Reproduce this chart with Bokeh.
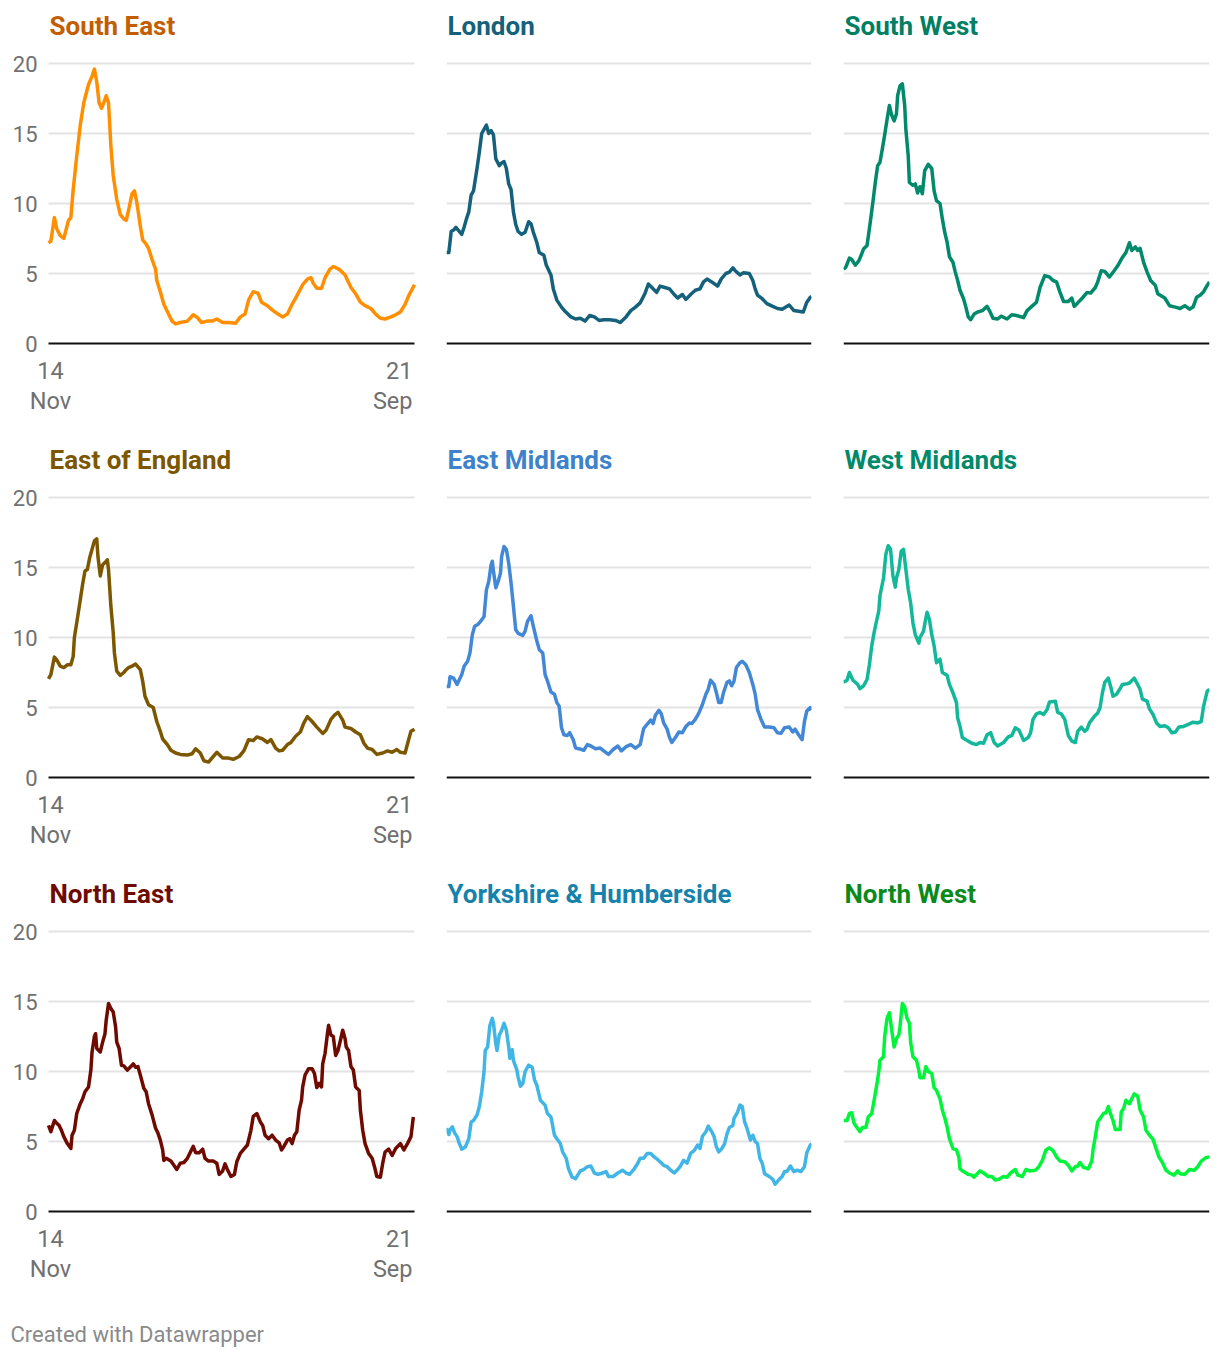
from bokeh.plotting import figure
from bokeh.layouts import column, row
from bokeh.models import Range1d, FixedTicker, Label
from bokeh.embed import file_html
from bokeh.resources import INLINE

# x = days since 14 Nov (0) .. 21 Sep (311)
X_START_LABEL = ["14", "Nov"]
X_END_LABEL = ["21", "Sep"]
X_MAX = 311
Y_MAX = 20
Y_TICKS = [0, 5, 10, 15, 20]
GRID_TICKS = [5, 10, 15, 20]

south_east = [(0,7.2),(2,7.3),(5,9.0),(7,8.2),(10,7.7),(13,7.5),(17,8.8),(19,9.0),(21,11.0),(24,13.4),(27,15.6),(30,17.2),(34,18.5),(37,19.1),(39,19.6),(41,18.7),(43,17.2),(45,16.8),(47,17.2),(49,17.7),(51,17.2),(53,14.1),(55,12.0),(58,10.3),(61,9.2),(64,8.9),(66,8.8),(68,9.5),(71,10.7),(73,10.9),(75,10.1),(78,8.4),(80,7.4),(83,7.1),(85,6.8),(88,6.0),(91,5.3),(92,4.5),(95,3.7),(98,2.8),(102,2.1),(105,1.6),(108,1.4),(112,1.5),(118,1.6),(123,2.05),(126,1.9),(130,1.5),(135,1.6),(139,1.6),(143,1.75),(148,1.5),(153,1.5),(159,1.45),(163,1.9),(167,2.1),(170,3.1),(174,3.7),(178,3.6),(181,2.95),(186,2.7),(190,2.4),(195,2.1),(199,1.9),(203,2.1),(207,2.8),(211,3.4),(216,4.2),(220,4.6),(223,4.7),(225,4.3),(228,3.95),(232,3.95),(235,4.7),(239,5.3),(242,5.5),(247,5.3),(252,4.9),(257,4.0),(261,3.55),(265,2.95),(269,2.7),(274,2.5),(278,2.1),(282,1.8),(286,1.75),(291,1.9),(295,2.05),(299,2.25),(303,2.8),(306,3.4),(311,4.2)]

london = [(0,6.5),(2,6.5),(4,8.0),(6,8.1),(8,8.3),(10,8.1),(13,7.8),(15,8.3),(17,8.9),(19,9.4),(21,10.6),(23,10.9),(26,12.5),(28,13.7),(30,15.0),(32,15.3),(34,15.6),(36,15.0),(38,15.2),(40,14.9),(42,13.2),(45,12.7),(47,12.9),(49,13.0),(51,12.5),(53,11.4),(55,11.0),(57,9.4),(59,8.5),(61,8.0),(64,7.8),(67,7.95),(70,8.7),(72,8.55),(74,7.95),(77,7.2),(79,6.5),(83,6.3),(85,5.6),(89,4.9),(91,3.9),(94,3.1),(98,2.6),(101,2.3),(106,1.9),(110,1.75),(114,1.8),(118,1.6),(122,2.0),(126,1.9),(130,1.65),(134,1.7),(139,1.7),(144,1.65),(148,1.5),(153,1.9),(157,2.35),(161,2.6),(165,2.9),(169,3.55),(172,4.25),(175,4.0),(179,3.65),(182,4.1),(186,4.0),(190,3.9),(194,3.5),(197,3.25),(201,3.5),(204,3.15),(208,3.5),(212,3.8),(216,3.9),(219,4.4),(222,4.6),(226,4.4),(231,4.1),(234,4.6),(238,5.0),(241,5.1),(244,5.4),(246,5.2),(250,4.9),(253,5.05),(258,5.0),(261,4.5),(263,3.9),(265,3.45),(269,3.2),(273,2.85),(278,2.65),(282,2.5),(286,2.45),(292,2.75),(296,2.35),(300,2.3),(304,2.25),(307,2.95),(310,3.3),(311,3.35)]

south_west = [(0,5.3),(2,5.45),(5,6.1),(7,6.0),(10,5.6),(13,5.9),(15,6.3),(17,6.75),(20,7.0),(22,8.2),(25,10.1),(27,11.5),(29,12.7),(31,12.95),(33,13.9),(35,14.9),(37,16.0),(39,17.0),(41,16.3),(43,15.9),(45,16.4),(46,17.7),(48,18.4),(50,18.55),(52,17.0),(53,15.3),(55,13.4),(56,11.5),(59,11.3),(61,11.4),(63,10.75),(65,11.2),(67,10.7),(69,12.35),(72,12.8),(75,12.5),(77,10.9),(79,10.2),(82,10.0),(84,8.9),(86,7.95),(88,7.25),(90,6.2),(93,5.8),(95,5.1),(97,4.5),(99,3.8),(102,3.2),(104,2.6),(106,1.9),(108,1.7),(111,2.1),(114,2.25),(118,2.35),(122,2.65),(124,2.35),(127,1.8),(131,1.75),(134,1.95),(139,1.75),(143,2.05),(147,2.0),(153,1.85),(156,2.35),(160,2.65),(164,2.95),(167,4.0),(171,4.85),(175,4.75),(178,4.5),(181,4.4),(184,3.65),(187,3.0),(191,3.0),(194,3.25),(196,2.65),(199,2.9),(203,3.25),(207,3.65),(210,3.6),(214,4.0),(216,4.4),(219,5.2),(222,5.15),(226,4.75),(230,5.2),(233,5.55),(237,6.15),(240,6.5),(243,7.2),(245,6.65),(248,6.9),(250,6.65),(252,6.8),(255,5.8),(258,5.1),(261,4.5),(265,4.15),(267,3.55),(273,3.25),(277,2.7),(282,2.6),(286,2.5),(290,2.7),(294,2.45),(297,2.6),(300,3.3),(303,3.45),(306,3.7),(309,4.15),(311,4.4)]

east_of_england = [(0,7.05),(2,7.35),(5,8.6),(7,8.4),(10,7.95),(13,7.85),(16,8.05),(19,8.05),(21,8.65),(22,10.0),(24,11.05),(27,12.7),(29,13.8),(31,14.75),(33,14.85),(35,15.7),(37,16.3),(39,16.9),(41,17.05),(42,15.8),(44,14.4),(46,15.2),(48,15.35),(50,15.55),(51,14.85),(53,12.25),(55,10.35),(56,8.9),(58,7.6),(61,7.3),(64,7.5),(66,7.7),(68,7.85),(71,7.95),(74,8.1),(78,7.7),(80,6.9),(82,5.8),(85,5.2),(89,5.0),(92,4.0),(95,3.3),(97,2.75),(101,2.35),(104,1.95),(108,1.75),(112,1.65),(118,1.6),(122,1.7),(125,2.05),(129,1.75),(132,1.2),(136,1.1),(140,1.5),(143,1.8),(148,1.4),(152,1.4),(157,1.3),(162,1.5),(166,1.9),(170,2.7),(174,2.65),(177,2.9),(182,2.75),(186,2.5),(189,2.7),(193,2.1),(196,1.9),(199,1.95),(203,2.35),(206,2.5),(210,2.95),(214,3.25),(217,3.9),(220,4.35),(224,4.0),(228,3.6),(233,3.15),(236,3.4),(240,4.15),(243,4.45),(246,4.65),(250,4.1),(252,3.6),(257,3.5),(261,3.25),(265,3.05),(268,2.45),(271,2.1),(275,2.0),(279,1.65),(284,1.75),(288,1.9),(292,1.8),(296,2.0),(299,1.8),(303,1.75),(306,2.7),(308,3.3),(311,3.45)]

east_midlands = [(0,6.5),(2,6.5),(3,7.2),(6,7.1),(9,6.65),(11,7.0),(13,7.35),(15,7.95),(18,8.3),(20,8.9),(22,10.2),(24,10.8),(27,10.95),(29,11.15),(32,11.5),(34,13.4),(36,14.0),(38,15.2),(39,15.45),(40,14.75),(42,13.55),(44,14.0),(46,14.6),(47,15.8),(49,16.5),(51,16.3),(53,15.3),(55,13.9),(57,12.25),(59,10.55),(61,10.3),(65,10.15),(67,10.45),(69,11.15),(72,11.55),(74,10.8),(77,9.75),(79,9.15),(82,8.9),(84,7.35),(86,6.9),(89,6.1),(92,5.95),(94,5.35),(96,5.1),(98,3.55),(100,3.05),(103,3.0),(105,3.2),(108,2.7),(110,2.1),(113,2.05),(117,1.95),(120,2.35),(123,2.25),(127,2.05),(131,2.1),(134,1.9),(138,1.65),(142,2.0),(146,2.25),(149,1.9),(153,2.2),(157,2.35),(161,2.1),(165,2.35),(168,3.5),(172,3.9),(174,4.1),(176,3.85),(178,4.45),(181,4.8),(183,4.55),(185,3.9),(188,3.45),(190,2.85),(192,2.5),(195,2.85),(198,3.25),(201,3.2),(204,3.65),(207,3.9),(209,3.85),(212,4.15),(215,4.6),(218,5.2),(221,5.95),(223,6.3),(225,6.95),(228,6.65),(230,6.05),(232,5.35),(234,5.35),(236,6.05),(239,6.8),(241,6.9),(243,6.55),(245,6.9),(247,7.85),(250,8.2),(252,8.3),(255,8.05),(258,7.5),(261,6.65),(263,5.95),(265,4.85),(268,4.15),(271,3.6),(275,3.6),(279,3.55),(282,3.2),(285,3.15),(288,3.55),(292,3.6),(295,3.25),(297,3.45),(300,3.05),(303,2.7),(305,4.0),(307,4.75),(310,5.0),(311,4.8)]

west_midlands = [(0,6.8),(3,6.95),(5,7.5),(8,6.95),(10,6.8),(12,6.65),(14,6.35),(17,6.55),(20,7.0),(22,8.05),(24,9.4),(26,10.35),(28,11.15),(30,11.9),(31,13.0),(34,14.25),(36,15.95),(38,16.55),(40,16.3),(42,14.4),(44,13.6),(45,14.25),(47,14.85),(49,16.15),(51,16.3),(53,14.85),(55,13.45),(57,12.5),(59,11.05),(61,10.2),(64,9.6),(65,10.0),(68,10.45),(69,10.95),(71,11.8),(73,11.3),(75,10.2),(77,9.4),(79,8.2),(82,8.45),(84,7.5),(88,7.3),(90,6.65),(93,6.05),(96,5.35),(97,4.25),(99,3.65),(101,2.85),(105,2.65),(109,2.45),(113,2.35),(116,2.5),(119,2.45),(122,3.05),(125,3.2),(128,2.5),(131,2.25),(136,2.5),(140,2.9),(143,3.0),(146,3.55),(149,3.4),(153,2.65),(157,2.85),(159,3.2),(161,4.15),(164,4.55),(167,4.65),(170,4.5),(173,4.85),(175,5.4),(180,5.45),(182,4.65),(185,4.55),(188,4.15),(191,3.0),(194,2.6),(197,2.5),(199,3.3),(202,3.6),(205,3.3),(207,3.45),(209,3.9),(213,4.35),(216,4.6),(218,5.0),(220,6.05),(222,6.8),(225,7.1),(227,6.5),(229,5.8),(232,5.95),(235,6.35),(237,6.65),(241,6.7),(243,6.75),(247,7.1),(249,6.8),(252,6.3),(254,5.6),(258,5.45),(260,4.9),(263,4.5),(266,3.9),(269,3.65),(273,3.7),(276,3.55),(279,3.2),(282,3.25),(285,3.6),(289,3.65),(293,3.8),(297,3.95),(301,3.9),(304,4.0),(306,5.1),(309,6.15),(311,6.3)]

north_east = [(0,6.15),(2,5.7),(5,6.5),(7,6.3),(9,6.15),(11,5.8),(13,5.35),(16,4.85),(19,4.5),(20,5.45),(22,5.8),(24,7.0),(27,7.7),(29,8.05),(31,8.55),(34,8.9),(36,10.1),(37,11.4),(39,12.5),(40,12.7),(41,11.65),(44,11.4),(46,12.1),(48,12.7),(49,13.65),(51,14.85),(53,14.5),(55,14.25),(57,13.2),(58,12.1),(60,11.65),(62,10.45),(64,10.4),(67,10.1),(70,10.35),(72,10.55),(74,10.3),(76,10.35),(78,9.75),(81,8.8),(83,8.55),(85,7.7),(88,6.9),(91,5.95),(93,5.6),(95,5.1),(97,4.4),(98,3.65),(100,3.8),(104,3.6),(107,3.25),(109,3.0),(112,3.45),(115,3.5),(118,3.8),(120,4.15),(123,4.65),(125,4.2),(128,4.2),(131,4.45),(133,3.8),(136,3.6),(140,3.6),(143,3.45),(145,2.65),(148,2.9),(150,3.4),(152,3.0),(155,2.5),(158,2.65),(160,3.55),(163,4.15),(166,4.45),(169,4.75),(172,5.8),(174,6.8),(177,7.0),(180,6.4),(182,6.15),(184,5.45),(187,5.2),(190,5.45),(193,5.1),(196,4.9),(198,4.4),(200,4.65),(203,5.1),(205,5.2),(207,4.85),(209,5.45),(211,5.7),(213,7.25),(215,7.95),(216,8.9),(218,9.75),(221,10.2),(224,10.2),(226,9.85),(228,8.85),(230,9.15),(232,8.9),(233,10.55),(235,11.3),(237,12.7),(238,13.3),(240,12.6),(242,12.5),(244,11.15),(246,11.5),(248,12.2),(250,12.95),(252,12.35),(253,11.75),(255,11.5),(257,10.35),(259,10.1),(261,8.9),(264,8.65),(265,7.25),(267,5.8),(269,4.85),(272,4.15),(275,3.8),(277,3.2),(279,2.5),(282,2.45),(284,3.45),(286,4.25),(289,4.45),(292,4.0),(295,4.5),(299,4.85),(302,4.4),(305,4.85),(308,5.35),(310,6.75)]

yorkshire = [(0,5.95),(2,5.5),(3,5.85),(5,6.05),(7,5.6),(9,5.35),(11,4.85),(13,4.45),(16,4.6),(19,5.2),(21,6.4),(23,6.5),(26,6.9),(28,7.5),(30,8.55),(32,10.0),(33,11.5),(35,11.75),(37,13.3),(39,13.8),(40,13.45),(42,12.0),(43,11.5),(45,12.6),(47,12.95),(49,13.45),(51,12.95),(53,11.75),(54,10.95),(56,11.55),(57,10.8),(60,10.1),(61,9.6),(63,8.95),(65,9.15),(67,10.0),(70,10.45),(73,10.3),(75,9.4),(77,9.0),(80,7.95),(84,7.6),(86,7.0),(89,6.75),(92,5.45),(94,5.2),(97,4.85),(99,4.25),(102,3.8),(104,3.05),(107,2.45),(110,2.35),(114,2.9),(117,3.0),(120,3.2),(123,3.25),(126,2.75),(129,2.65),(133,2.75),(136,2.85),(138,2.5),(142,2.5),(146,2.75),(150,2.95),(153,2.75),(156,2.65),(160,3.05),(163,3.45),(165,3.8),(168,3.8),(171,4.15),(174,4.15),(177,3.9),(180,3.7),(182,3.55),(185,3.3),(188,3.2),(191,2.95),(194,2.75),(197,3.0),(199,3.2),(202,3.65),(205,3.45),(208,4.15),(211,4.35),(214,4.75),(216,4.5),(218,5.35),(221,5.7),(223,6.1),(226,5.7),(228,5.35),(230,4.6),(232,4.25),(235,4.55),(237,4.85),(239,5.55),(241,6.0),(244,6.15),(245,6.65),(248,7.1),(250,7.6),(252,7.5),(254,6.4),(256,5.95),(259,5.1),(261,5.45),(263,5.0),(265,4.85),(267,3.8),(269,3.45),(271,2.7),(275,2.5),(278,2.3),(280,1.95),(283,2.25),(286,2.5),(288,2.85),(290,2.85),(293,3.25),(296,2.85),(299,2.95),(302,2.85),(305,3.2),(307,4.2),(310,4.75),(311,4.85)]

north_west = [(0,6.5),(3,6.5),(5,7.0),(7,7.05),(9,6.3),(11,6.05),(14,5.7),(16,6.0),(19,6.0),(21,6.75),(24,7.0),(26,7.95),(28,8.9),(30,10.0),(31,10.8),(34,11.05),(35,12.5),(37,13.8),(39,14.2),(41,12.95),(43,11.75),(45,12.35),(47,12.6),(48,13.2),(50,14.85),(52,14.6),(54,13.8),(56,13.45),(57,12.1),(59,11.05),(62,10.8),(64,10.1),(65,9.55),(68,9.55),(70,10.35),(72,10.0),(75,9.85),(77,8.85),(79,8.65),(82,8.05),(84,7.25),(86,6.7),(88,6.05),(90,5.2),(93,4.5),(96,4.4),(98,3.9),(99,3.05),(102,2.85),(106,2.65),(109,2.6),(111,2.45),(113,2.65),(116,2.9),(119,2.75),(123,2.5),(126,2.5),(129,2.25),(132,2.3),(136,2.5),(139,2.45),(142,2.75),(146,3.0),(148,2.6),(152,2.5),(155,3.0),(158,2.9),(163,2.95),(166,3.2),(169,3.65),(172,4.4),(175,4.55),(178,4.35),(181,3.9),(184,3.6),(188,3.55),(191,3.3),(194,2.9),(197,3.2),(199,3.25),(201,3.5),(204,3.15),(208,3.05),(211,3.6),(212,4.4),(214,5.35),(216,6.4),(218,6.65),(221,7.0),(223,7.05),(225,7.5),(227,6.95),(229,6.5),(231,5.85),(235,5.85),(236,7.1),(238,7.35),(240,7.95),(243,7.7),(245,8.05),(247,8.4),(250,8.25),(252,7.25),(255,6.75),(257,5.8),(260,5.45),(263,5.15),(265,4.65),(268,3.9),(271,3.5),(274,2.95),(277,2.75),(281,2.6),(284,2.9),(286,2.7),(290,2.65),(294,3.0),(298,2.95),(301,3.2),(304,3.6),(308,3.85),(311,3.9)]

panel_titles = ["South East", "London", "South West",
                "East of England", "East Midlands", "West Midlands",
                "North East", "Yorkshire & Humberside", "North West"]
panel_series = [south_east, london, south_west,
                east_of_england, east_midlands, west_midlands,
                north_east, yorkshire, north_west]
line_colors = ["#ff8f00", "#15607a", "#00896b",
               "#7c5700", "#4388d6", "#13b89a",
               "#6e0a00", "#41b6e6", "#00f53a"]
title_colors = ["#c25e00", "#15607a", "#007f63",
                "#7c5700", "#3e82cc", "#008a6a",
                "#6e0a00", "#1682ab", "#0a8a1c"]

FONT = "Roboto"
TICK_COLOR = "#707070"

# ---- pixel layout of one panel (all text lives inside the plot frame) ----
PANEL_H = 434              # height of one row of panels
PLOT_W = [366, 365, 366]   # width of the data area per column
PAD_L = [48, 16, 16]       # canvas space left of the data area
PAD_R = [16, 16, 11]       # canvas space right of the data area
TOP_PX = 63                # from panel top to the 20-gridline
ZERO_PX = 343              # from panel top to the baseline
PX_PER_UNIT = (ZERO_PX - TOP_PX) / Y_MAX
Y_LO = -(PANEL_H - ZERO_PX) / PX_PER_UNIT
Y_HI = Y_MAX + TOP_PX / PX_PER_UNIT
TITLE_Y = Y_MAX + (TOP_PX - 25) / PX_PER_UNIT
DATE_Y = [-(370 - ZERO_PX) / PX_PER_UNIT, -(400 - ZERO_PX) / PX_PER_UNIT]


def bare_axis(ax):
    ax.axis_line_color = None
    ax.major_tick_line_color = None
    ax.minor_tick_line_color = None
    ax.major_tick_out = 0
    ax.major_tick_in = 0
    ax.minor_tick_out = 0
    ax.minor_tick_in = 0
    ax.major_label_text_font = FONT
    ax.major_label_text_font_size = "22px"
    ax.major_label_text_color = TICK_COLOR


def make_panel(idx):
    col = idx % 3
    px_per_day = PLOT_W[col] / X_MAX
    if col == 0:
        # frame covers the whole canvas so the tick texts are not clipped
        x_range = Range1d(-PAD_L[0] / px_per_day, X_MAX + PAD_R[0] / px_per_day)
        bl, br = 0, 0
    else:
        x_range = Range1d(0, X_MAX)
        bl, br = PAD_L[col], PAD_R[col]
    w = PLOT_W[col] + PAD_L[col] + PAD_R[col]
    pts = panel_series[idx]
    xs = [p[0] for p in pts]
    ys = [p[1] for p in pts]
    p = figure(width=w, height=PANEL_H, toolbar_location=None, output_backend="svg",
               x_range=x_range, y_range=Range1d(Y_LO, Y_HI),
               min_border_left=bl, min_border_right=br,
               min_border_top=0, min_border_bottom=0)
    p.outline_line_color = None
    p.background_fill_color = "white"
    p.border_fill_color = "white"
    p.xgrid.visible = False
    p.ygrid.ticker = FixedTicker(ticks=GRID_TICKS)
    p.ygrid.grid_line_color = "#e3e3e3"
    p.ygrid.grid_line_width = 2
    p.ygrid.cross_bounds = (0, X_MAX)

    # baseline = x axis line at y = 0, spanning the data days only
    xa = p.xaxis[0]
    bare_axis(xa)
    xa.fixed_location = 0
    xa.bounds = (0, X_MAX)
    xa.ticker = FixedTicker(ticks=[])
    xa.axis_line_color = "#111111"
    xa.axis_line_width = 2

    ya = p.yaxis[0]
    if col == 0:
        bare_axis(ya)
        ya.fixed_location = 0
        ya.ticker = FixedTicker(ticks=Y_TICKS)
        ya.major_label_standoff = 11
        for txt, y in zip(X_START_LABEL, DATE_Y):
            p.add_layout(Label(x=0, y=y, text=txt, text_align="center",
                               text_baseline="middle", text_font=FONT,
                               text_font_size="23.5px", text_color=TICK_COLOR, x_offset=2))
        for txt, y in zip(X_END_LABEL, DATE_Y):
            p.add_layout(Label(x=X_MAX, y=y, text=txt, text_align="right",
                               text_baseline="middle", text_font=FONT,
                               text_font_size="23.5px", text_color=TICK_COLOR, x_offset=-2))
    else:
        ya.visible = False

    p.add_layout(Label(x=0, y=TITLE_Y, text=panel_titles[idx], text_align="left",
                       text_baseline="middle", text_font=FONT, text_font_style="bold",
                       text_font_size="26px", text_color=title_colors[idx], x_offset=1))
    p.line(xs, ys, line_color=line_colors[idx], line_width=3.5, line_join="round")
    return p


panels = [make_panel(i) for i in range(9)]

footer = figure(width=1220, height=56, toolbar_location=None, output_backend="svg",
                x_range=Range1d(0, 1), y_range=Range1d(0, 1), min_border=0)
footer.outline_line_color = None
footer.axis.visible = False
footer.grid.visible = False
footer.add_layout(Label(x=10, y=24, x_units="screen", y_units="screen",
                        text="Created with Datawrapper", text_baseline="middle",
                        text_font=FONT, text_font_size="22px", text_color="#8a8a8a"))

layout = column(row(*panels[0:3]), row(*panels[3:6]), row(*panels[6:9]), footer)

open("out.html", "w").write(file_html(layout, INLINE))
